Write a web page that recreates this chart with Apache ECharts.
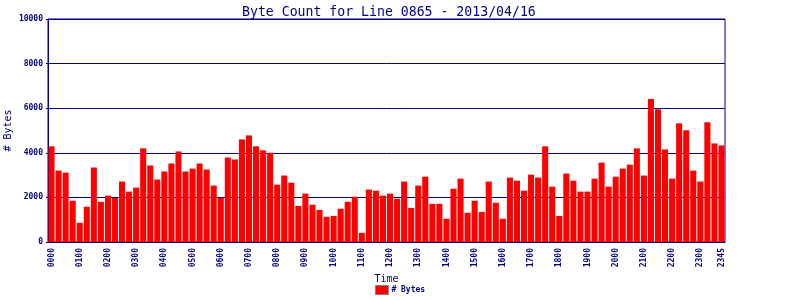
<!DOCTYPE html>
<html><head><meta charset="utf-8">
<script src="https://cdn.jsdelivr.net/npm/echarts@6/dist/echarts.min.js"></script>
<style>html,body{margin:0;padding:0;background:#fff}#c{width:800px;height:300px}</style>
</head><body><div id="c"></div>
<script>
var titleText = "Byte Count for Line 0865 - 2013/04/16";
var seriesName = "# Bytes";
var yTicks = [0, 2000, 4000, 6000, 8000, 10000];
var hours = ["00","01","02","03","04","05","06","07","08","09","10","11","12","13","14","15","16","17","18","19","20","21","22","23"];
var quarters = ["00","15","30","45"];
var categories = [];
hours.forEach(function(h){ quarters.forEach(function(q){ categories.push(h + q); }); });
var byteCounts = [
 4290, 3200, 3110, 1850, 860, 1580, 3340, 1800, 2080, 1980, 2710, 2260, 2440, 4200, 3430, 2800,
 3160, 3520, 4060, 3160, 3290, 3520, 3250, 2530, 1980, 3790, 3700, 4600, 4780, 4290, 4110, 4000,
 2570, 2980, 2660, 1620, 2170, 1670, 1440, 1130, 1170, 1490, 1800, 2030, 410, 2350, 2300, 2080,
 2170, 1940, 2710, 1530, 2530, 2930, 1710, 1710, 1040, 2390, 2840, 1310, 1850, 1350, 2710, 1760,
 1040, 2890, 2750, 2300, 3020, 2890, 4290, 2480, 1170, 3070, 2750, 2260, 2260, 2840, 3560, 2480,
 2930, 3290, 3470, 4200, 2980, 6410, 5950, 4150, 2840, 5320, 5010, 3200, 2710, 5370, 4420, 4330
];
var navy = "#000080";
var mono = "DejaVu Sans Mono";
var chart = echarts.init(document.getElementById('c'));
chart.setOption({
  animation: false,
  title: { text: titleText, left: 237, top: 1,
    textStyle: { color: navy, fontFamily: mono, fontSize: 13.2, fontWeight: 'normal' } },
  legend: { bottom: 0, left: 'center', itemWidth: 13, itemHeight: 9, itemGap: 4, icon: 'rect',
    data: [seriesName],
    itemStyle: { borderColor: '#808080', borderWidth: 1 },
    textStyle: { color: navy, fontFamily: mono, fontSize: 8, fontWeight: 'bold', padding: [0,0,0,-2] } },
  grid: { left: 48, right: 75, top: 19, bottom: 58, show: true, borderColor: navy, borderWidth: 1,
    containLabel: false, outerBoundsMode: 'none' },
  xAxis: { type: 'category', data: categories, name: 'Time', nameLocation: 'middle', nameGap: 32,
    nameTextStyle: { color: navy, fontFamily: mono, fontSize: 10 }, nameMoveOverlap: false,
    axisLine: { lineStyle: { color: navy } }, axisTick: { show: false },
    axisLabel: { show: true, rotate: 90, color: navy, fontFamily: mono, fontSize: 8, fontWeight: 'bold', margin: 6,
      interval: 0, hideOverlap: false,
      formatter: function(v, i){ return (i % 4 === 0 || i === categories.length - 1) ? v : ''; } } },
  yAxis: { type: 'value', min: yTicks[0], max: yTicks[yTicks.length-1], interval: 2000,
    name: seriesName, nameLocation: 'middle', nameGap: 35, nameMoveOverlap: false,
    nameTextStyle: { color: navy, fontFamily: mono, fontSize: 10 },
    axisLine: { show: true, lineStyle: { color: navy } },
    axisTick: { show: true, length: 2, lineStyle: { color: navy } },
    axisLabel: { color: navy, fontFamily: mono, fontSize: 8, fontWeight: 'bold', margin: 5,
      formatter: function(v){ return String(v); } },
    splitLine: { lineStyle: { color: navy, width: 1 } } },
  series: [{ name: seriesName, type: 'bar', data: byteCounts, barCategoryGap: '14%',
    itemStyle: { color: '#ff0000' } }]
});
</script></body></html>
